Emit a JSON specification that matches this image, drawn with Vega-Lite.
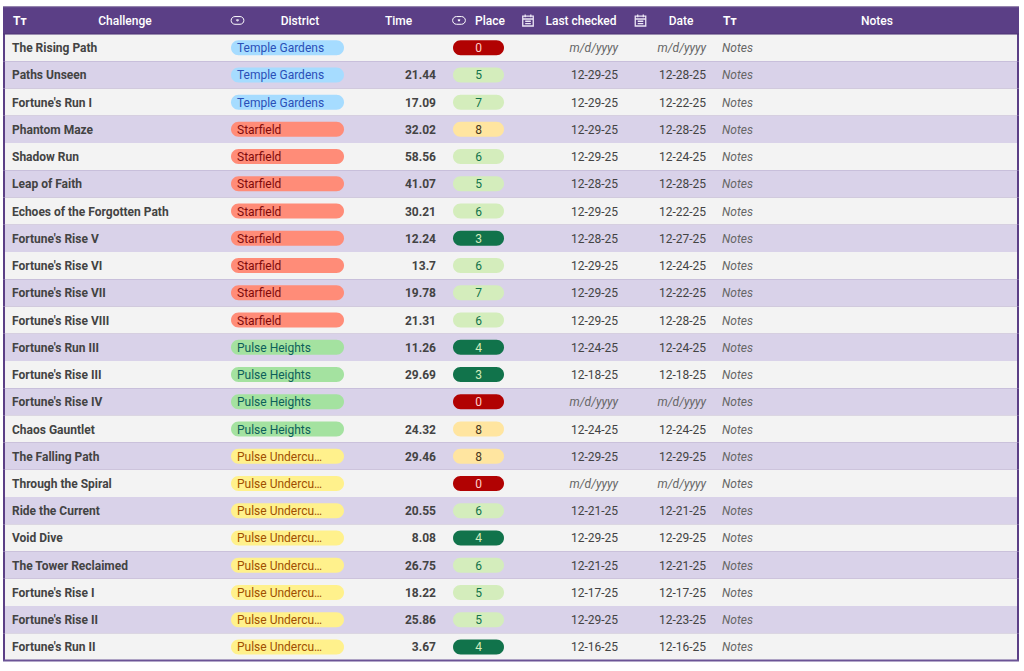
{
  "$schema": "https://vega.github.io/schema/vega-lite/v6.json",
  "autosize": {"type": "fit", "contains": "padding"},
  "width": 1024,
  "height": 671,
  "padding": 0,
  "background": "#ffffff",
  "view": {"stroke": null},
  "config": {"text": {"font": "Roboto", "fontSize": 12, "dy": 0.55}},
  "datasets": {
    "challenges": [
      {"challenge": "The Rising Path", "district": "Temple Gardens", "time": null, "place": 0, "last_checked": null, "date": null, "notes": "Notes"},
      {"challenge": "Paths Unseen", "district": "Temple Gardens", "time": 21.44, "place": 5, "last_checked": "12-29-25", "date": "12-28-25", "notes": "Notes"},
      {"challenge": "Fortune's Run I", "district": "Temple Gardens", "time": 17.09, "place": 7, "last_checked": "12-29-25", "date": "12-22-25", "notes": "Notes"},
      {"challenge": "Phantom Maze", "district": "Starfield", "time": 32.02, "place": 8, "last_checked": "12-29-25", "date": "12-28-25", "notes": "Notes"},
      {"challenge": "Shadow Run", "district": "Starfield", "time": 58.56, "place": 6, "last_checked": "12-29-25", "date": "12-24-25", "notes": "Notes"},
      {"challenge": "Leap of Faith", "district": "Starfield", "time": 41.07, "place": 5, "last_checked": "12-28-25", "date": "12-28-25", "notes": "Notes"},
      {"challenge": "Echoes of the Forgotten Path", "district": "Starfield", "time": 30.21, "place": 6, "last_checked": "12-29-25", "date": "12-22-25", "notes": "Notes"},
      {"challenge": "Fortune's Rise V", "district": "Starfield", "time": 12.24, "place": 3, "last_checked": "12-28-25", "date": "12-27-25", "notes": "Notes"},
      {"challenge": "Fortune's Rise VI", "district": "Starfield", "time": 13.7, "place": 6, "last_checked": "12-29-25", "date": "12-24-25", "notes": "Notes"},
      {"challenge": "Fortune's Rise VII", "district": "Starfield", "time": 19.78, "place": 7, "last_checked": "12-29-25", "date": "12-22-25", "notes": "Notes"},
      {"challenge": "Fortune's Rise VIII", "district": "Starfield", "time": 21.31, "place": 6, "last_checked": "12-29-25", "date": "12-28-25", "notes": "Notes"},
      {"challenge": "Fortune's Run III", "district": "Pulse Heights", "time": 11.26, "place": 4, "last_checked": "12-24-25", "date": "12-24-25", "notes": "Notes"},
      {"challenge": "Fortune's Rise III", "district": "Pulse Heights", "time": 29.69, "place": 3, "last_checked": "12-18-25", "date": "12-18-25", "notes": "Notes"},
      {"challenge": "Fortune's Rise IV", "district": "Pulse Heights", "time": null, "place": 0, "last_checked": null, "date": null, "notes": "Notes"},
      {"challenge": "Chaos Gauntlet", "district": "Pulse Heights", "time": 24.32, "place": 8, "last_checked": "12-24-25", "date": "12-24-25", "notes": "Notes"},
      {"challenge": "The Falling Path", "district": "Pulse Undercurrent", "time": 29.46, "place": 8, "last_checked": "12-29-25", "date": "12-29-25", "notes": "Notes"},
      {"challenge": "Through the Spiral", "district": "Pulse Undercurrent", "time": null, "place": 0, "last_checked": null, "date": null, "notes": "Notes"},
      {"challenge": "Ride the Current", "district": "Pulse Undercurrent", "time": 20.55, "place": 6, "last_checked": "12-21-25", "date": "12-21-25", "notes": "Notes"},
      {"challenge": "Void Dive", "district": "Pulse Undercurrent", "time": 8.08, "place": 4, "last_checked": "12-29-25", "date": "12-29-25", "notes": "Notes"},
      {"challenge": "The Tower Reclaimed", "district": "Pulse Undercurrent", "time": 26.75, "place": 6, "last_checked": "12-21-25", "date": "12-21-25", "notes": "Notes"},
      {"challenge": "Fortune's Rise I", "district": "Pulse Undercurrent", "time": 18.22, "place": 5, "last_checked": "12-17-25", "date": "12-17-25", "notes": "Notes"},
      {"challenge": "Fortune's Rise II", "district": "Pulse Undercurrent", "time": 25.86, "place": 5, "last_checked": "12-29-25", "date": "12-23-25", "notes": "Notes"},
      {"challenge": "Fortune's Run II", "district": "Pulse Undercurrent", "time": 3.67, "place": 4, "last_checked": "12-16-25", "date": "12-16-25", "notes": "Notes"}
    ]
  },
  "data": {"name": "challenges"},
  "transform": [{"window": [{"op": "row_number", "as": "row"}]}],
  "resolve": {"scale": {"fill": "independent", "color": "independent"}},
  "encoding": {
    "y": {
      "field": "challenge",
      "type": "nominal",
      "axis": null,
      "scale": {
        "type": "band",
        "paddingInner": 0,
        "paddingOuter": 0,
        "range": [6.8, 660.5],
        "domain": ["header", "The Rising Path", "Paths Unseen", "Fortune's Run I", "Phantom Maze", "Shadow Run", "Leap of Faith", "Echoes of the Forgotten Path", "Fortune's Rise V", "Fortune's Rise VI", "Fortune's Rise VII", "Fortune's Rise VIII", "Fortune's Run III", "Fortune's Rise III", "Fortune's Rise IV", "Chaos Gauntlet", "The Falling Path", "Through the Spiral", "Ride the Current", "Void Dive", "The Tower Reclaimed", "Fortune's Rise I", "Fortune's Rise II", "Fortune's Run II"]
      }
    }
  },
  "layer": [
    {
      "mark": {"type": "bar", "color": "#5b3f86"},
      "encoding": {
        "x": {"datum": 3, "type": "quantitative", "axis": null, "scale": {"domain": [0, 1024], "range": [0, 1024], "nice": false, "zero": false}},
        "x2": {"datum": 1019}
      }
    },
    {
      "mark": {"type": "bar"},
      "encoding": {
        "x": {"datum": 5, "type": "quantitative"},
        "x2": {"datum": 1017},
        "fill": {"condition": {"test": "datum.row % 2 === 1", "value": "#f3f3f3"}, "value": "#d9d2e9"}
      }
    },
    {
      "data": {"values": [{"challenge": "header"}]},
      "transform": [],
      "mark": {"type": "bar", "color": "#5b3f86"},
      "encoding": {
        "x": {"datum": 3, "type": "quantitative"},
        "x2": {"datum": 1019}
      }
    },
    {
      "data": {"values": [{"challenge": "header"}]},
      "transform": [],
      "mark": {"type": "rule", "color": "#7a6699", "strokeWidth": 1},
      "encoding": {
        "x": {"datum": 3, "type": "quantitative"},
        "x2": {"datum": 1019},
        "y": {"field": "challenge", "type": "nominal", "bandPosition": 0}
      }
    },
    {
      "data": {"values": [{"challenge": "header"}]},
      "transform": [],
      "mark": {"type": "rule", "color": "#4e3575", "strokeWidth": 1},
      "encoding": {
        "x": {"datum": 3, "type": "quantitative"},
        "x2": {"datum": 1019},
        "y": {"field": "challenge", "type": "nominal", "bandPosition": 1}
      }
    },
    {
      "data": {"values": [{"challenge": "Fortune's Run II"}]},
      "transform": [],
      "mark": {"type": "rule", "color": "#6b5496", "strokeWidth": 2},
      "encoding": {
        "x": {"datum": 3, "type": "quantitative"},
        "x2": {"datum": 1019},
        "y": {"field": "challenge", "type": "nominal", "bandPosition": 1}
      }
    },
    {
      "data": {"values": [
        {"challenge": "header", "label": "Challenge", "center": 125},
        {"challenge": "header", "label": "District", "center": 300},
        {"challenge": "header", "label": "Time", "center": 398.5},
        {"challenge": "header", "label": "Place", "center": 490},
        {"challenge": "header", "label": "Last checked", "center": 581},
        {"challenge": "header", "label": "Date", "center": 681},
        {"challenge": "header", "label": "Notes", "center": 877}
      ]},
      "transform": [],
      "mark": {"type": "text", "color": "#ffffff", "fontWeight": 500},
      "encoding": {
        "x": {"field": "center", "type": "quantitative"},
        "text": {"field": "label"}
      }
    },
    {
      "data": {"values": [
        {"challenge": "header", "column": "Challenge", "pos": 13},
        {"challenge": "header", "column": "Notes", "pos": 723}
      ]},
      "transform": [],
      "mark": {"type": "text", "text": "Tт", "color": "#ffffff", "fontWeight": "bold", "align": "left"},
      "encoding": {"x": {"field": "pos", "type": "quantitative"}}
    },
    {
      "data": {"values": [
        {"challenge": "header", "column": "District", "pos": 237.5},
        {"challenge": "header", "column": "Place", "pos": 459}
      ]},
      "transform": [],
      "mark": {
        "type": "point",
        "shape": "M-0.36,-0.55 H0.36 A0.55,0.55 0 0 1 0.36,0.55 H-0.36 A0.55,0.55 0 0 1 -0.36,-0.55 Z M-0.15,-0.08 H0.15 L0,0.12 Z",
        "size": 196,
        "filled": false,
        "stroke": "#ffffff",
        "strokeWidth": 1,
        "opacity": 1
      },
      "encoding": {"x": {"field": "pos", "type": "quantitative"}}
    },
    {
      "data": {"values": [
        {"challenge": "header", "column": "Last checked", "pos": 528},
        {"challenge": "header", "column": "Date", "pos": 640.5}
      ]},
      "transform": [],
      "mark": {
        "type": "point",
        "shape": "M-0.75,-0.6 H0.75 V0.8 H-0.75 Z M-0.75,-0.2 H0.75 M-0.4,-0.85 V-0.45 M0.4,-0.85 V-0.45 M-0.4,0.12 H0.4 M-0.4,0.45 H0.4",
        "size": 196,
        "filled": false,
        "stroke": "#ece6f5",
        "strokeWidth": 1.3,
        "opacity": 1
      },
      "encoding": {"x": {"field": "pos", "type": "quantitative"}}
    },
    {
      "mark": {"type": "bar", "height": 15, "cornerRadius": 7.5},
      "encoding": {
        "x": {"datum": 231, "type": "quantitative"},
        "x2": {"datum": 344},
        "fill": {
          "field": "district",
          "type": "nominal",
          "legend": null,
          "scale": {
            "domain": ["Temple Gardens", "Starfield", "Pulse Heights", "Pulse Undercurrent"],
            "range": ["#a6dcff", "#ff8c78", "#a4e2a0", "#fff18c"]
          }
        }
      }
    },
    {
      "mark": {"type": "text", "align": "left", "limit": 89},
      "encoding": {
        "x": {"datum": 237, "type": "quantitative"},
        "text": {"field": "district"},
        "color": {
          "field": "district",
          "type": "nominal",
          "legend": null,
          "scale": {
            "domain": ["Temple Gardens", "Starfield", "Pulse Heights", "Pulse Undercurrent"],
            "range": ["#2a50b8", "#7f0a0a", "#0d5f5a", "#a04f00"]
          }
        }
      }
    },
    {
      "mark": {"type": "bar", "height": 15, "cornerRadius": 7.5},
      "encoding": {
        "x": {"datum": 453, "type": "quantitative"},
        "x2": {"datum": 504},
        "fill": {
          "field": "place",
          "type": "ordinal",
          "legend": null,
          "scale": {
            "domain": [0, 3, 4, 5, 6, 7, 8],
            "range": ["#b10202", "#11734b", "#11734b", "#d4edbc", "#d4edbc", "#d4edbc", "#ffe5a0"]
          }
        }
      }
    },
    {
      "mark": {"type": "text"},
      "encoding": {
        "x": {"datum": 478.5, "type": "quantitative"},
        "text": {"field": "place"},
        "color": {
          "field": "place",
          "type": "ordinal",
          "legend": null,
          "scale": {
            "domain": [0, 3, 4, 5, 6, 7, 8],
            "range": ["#ffcfc9", "#d4edbc", "#d4edbc", "#11734b", "#11734b", "#11734b", "#473821"]
          }
        }
      }
    },
    {
      "mark": {"type": "text", "align": "left", "color": "#434343", "fontWeight": "bold"},
      "encoding": {
        "x": {"datum": 12, "type": "quantitative"},
        "text": {"field": "challenge"}
      }
    },
    {
      "transform": [{"filter": "isValid(datum.time)"}],
      "mark": {"type": "text", "align": "right", "color": "#434343", "fontWeight": "bold"},
      "encoding": {
        "x": {"datum": 436, "type": "quantitative"},
        "text": {"field": "time", "type": "nominal"}
      }
    },
    {
      "transform": [{"filter": "isValid(datum.last_checked)"}],
      "mark": {"type": "text", "align": "right", "color": "#434343"},
      "encoding": {
        "x": {"datum": 618, "type": "quantitative"},
        "text": {"field": "last_checked"}
      }
    },
    {
      "transform": [{"filter": "isValid(datum.date)"}],
      "mark": {"type": "text", "align": "right", "color": "#434343"},
      "encoding": {
        "x": {"datum": 706, "type": "quantitative"},
        "text": {"field": "date"}
      }
    },
    {
      "transform": [{"filter": "!isValid(datum.last_checked)"}],
      "mark": {"type": "text", "text": "m/d/yyyy", "align": "right", "color": "#666666", "fontStyle": "italic"},
      "encoding": {"x": {"datum": 618, "type": "quantitative"}}
    },
    {
      "transform": [{"filter": "!isValid(datum.date)"}],
      "mark": {"type": "text", "text": "m/d/yyyy", "align": "right", "color": "#666666", "fontStyle": "italic"},
      "encoding": {"x": {"datum": 706, "type": "quantitative"}}
    },
    {
      "mark": {"type": "text", "align": "left", "color": "#666666", "fontStyle": "italic"},
      "encoding": {
        "x": {"datum": 722, "type": "quantitative"},
        "text": {"field": "notes"}
      }
    }
  ]
}
